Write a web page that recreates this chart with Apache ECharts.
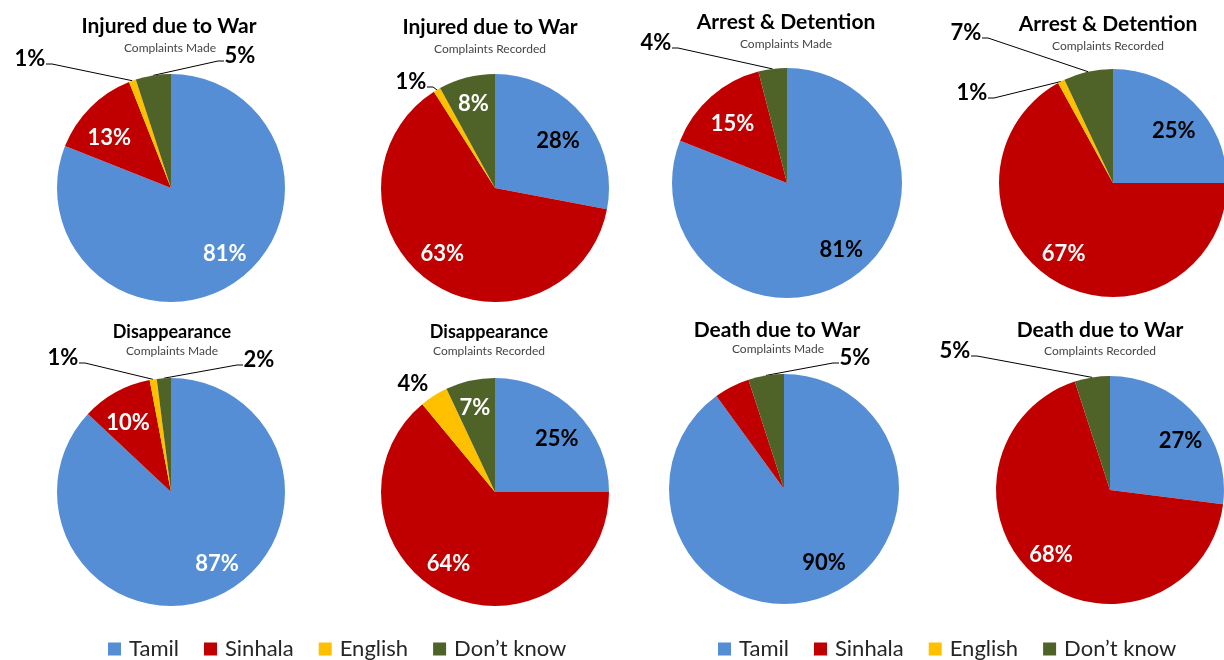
<!DOCTYPE html>
<html>
<head>
<meta charset="utf-8">
<script src="https://cdn.jsdelivr.net/npm/echarts@6/dist/echarts.min.js"></script>
<style>
html,body{margin:0;padding:0;background:#ffffff;}
#chart{width:1224px;height:660px;}
</style>
</head>
<body>
<div id="chart"></div>
<script>
// ---------------- DATA ----------------
const languages = ['Tamil', 'Sinhala', 'English', 'Don’t know'];
const chartTitles = ['Injured due to War', 'Injured due to War', 'Arrest & Detention', 'Arrest & Detention',
                     'Disappearance', 'Disappearance', 'Death due to War', 'Death due to War'];
const chartSubtitles = ['Complaints Made', 'Complaints Recorded', 'Complaints Made', 'Complaints Recorded',
                        'Complaints Made', 'Complaints Recorded', 'Complaints Made', 'Complaints Recorded'];
const injuredMade           = [81, 13, 1, 5];
const injuredRecorded       = [28, 63, 1, 8];
const arrestMade            = [81, 15, 0, 4];
const arrestRecorded        = [25, 67, 1, 7];
const disappearanceMade     = [87, 10, 1, 2];
const disappearanceRecorded = [25, 64, 4, 7];
const deathMade             = [90, 5, 0, 5];
const deathRecorded         = [27, 68, 0, 5];

// ---------------- STYLE / LAYOUT ----------------
const sliceColors = ['#558ED5', '#C00000', '#FFC000', '#4F6228'];
const FONT = 'Lato, "Open Sans", sans-serif';
// label modes: w = inside white, b = inside black, o = outside with leader, t = outside no leader, null = hidden
const pies = [
  {values: injuredMade, c: [171, 188], r: 114, t: [169, 26], s: [170, 48], ts: 21,
   modes: ['w', 'w', 'o', 'o'], out: {2: [-141, -129], 3: [69, -132]},
   nudge: {0: [7, -3], 1: [-3, 9]}},
  {values: injuredRecorded, c: [495, 188], r: 114, t: [490, 27], s: [490, 49], ts: 21,
   modes: ['b', 'w', 'o', 'w'], out: {2: [-84, -106]},
   nudge: {0: [-1, 6], 1: [-6, -3], 3: [-1, -3]}},
  {values: arrestMade, c: [787, 183], r: 115, t: [786, 22], s: [786, 44], ts: 21,
   modes: ['b', 'w', null, 'o'], out: {3: [-131, -140]},
   nudge: {0: [7, -3], 1: [1, 4]}},
  {values: arrestRecorded, c: [1113, 183], r: 114, t: [1108, 24], s: [1108, 46], ts: 21,
   modes: ['b', 'w', 'o', 'o'], out: {2: [-141, -90], 3: [-147, -150]},
   nudge: {0: [2, 7], 1: [-7, -1]}},
  {values: disappearanceMade, c: [171, 492], r: 114, t: [172, 332], s: [172, 351], ts: 18,
   modes: ['w', 'w', 'o', 'o'], out: {2: [-108, -134], 3: [88, -132]},
   nudge: {0: [13, -4], 1: [-3, 4]}},
  {values: disappearanceRecorded, c: [495, 492], r: 114, t: [489, 332], s: [489, 351], ts: 18,
   modes: ['b', 'w', 't', 'w'], out: {2: [-82, -108]},
   nudge: {0: [3, 6], 1: [-11, -3], 3: [-2, -3]}},
  {values: deathMade, c: [784, 489], r: 115, t: [777, 330], s: [778, 349], ts: 21,
   modes: ['b', null, null, 'o'], out: {3: [71, -131]},
   nudge: {0: [14, -6]}},
  {values: deathRecorded, c: [1110, 490], r: 114, t: [1100, 330], s: [1100, 351], ts: 21,
   modes: ['b', 'w', null, 'o'], out: {3: [-155, -139]},
   nudge: {0: [8, 6], 1: [-6, 1]}}
];

function midDir(values, idx) {
  const total = values.reduce((a, b) => a + b, 0);
  let cum = 0;
  for (let i = 0; i < idx; i++) cum += values[i];
  const f = (cum + values[idx] / 2) / total;
  const a = 2 * Math.PI * f;
  return [Math.sin(a), -Math.cos(a)];
}

function layoutFor(p, idx) {
  const mode = p.modes[idx];
  if (!mode) return;
  const d = midDir(p.values, idx);
  const [cx, cy] = p.c;
  if (mode === 'w' || mode === 'b') {
    const n = (p.nudge && p.nudge[idx]) || [0, 0];
    return {x: cx + d[0] * p.r * 0.73 + n[0], y: cy + d[1] * p.r * 0.73 + n[1],
            align: 'center', verticalAlign: 'middle'};
  }
  const o = p.out[idx];
  const lx = cx + o[0], ly = cy + o[1];
  const res = {x: lx, y: ly, align: 'center', verticalAlign: 'middle'};
  if (mode === 'o') {
    const ex = cx + d[0] * p.r, ey = cy + d[1] * p.r;
    const left = lx < ex;
    const side = left ? lx + 16 : lx - 16;
    const yy = ly + 5;
    res.labelLinePoints = [[ex, ey], [side + (left ? 6 : -6), yy], [side, yy]];
  }
  return res;
}

const titles = [];
pies.forEach((p, i) => {
  titles.push({text: chartTitles[i], left: p.t[0], top: p.t[1], padding: 0,
    textAlign: 'center', textVerticalAlign: 'middle',
    textStyle: {fontFamily: FONT, fontSize: p.ts, fontWeight: 'bold', color: '#000000'}});
  titles.push({text: chartSubtitles[i], left: p.s[0], top: p.s[1], padding: 0,
    textAlign: 'center', textVerticalAlign: 'middle',
    textStyle: {fontFamily: FONT, fontSize: 12, fontWeight: 'normal', color: '#454545'}});
});

const series = pies.map((p) => ({
  type: 'pie',
  center: p.c,
  radius: p.r,
  startAngle: 90,
  clockwise: true,
  avoidLabelOverlap: false,
  silent: true,
  animation: false,
  label: {show: true, formatter: '{c}%', fontFamily: FONT, fontSize: 22, fontWeight: 'bold', color: '#000'},
  labelLine: {show: true, smooth: false, lineStyle: {color: '#000000', width: 1}},
  data: p.values.map((v, i) => {
    const mode = p.modes[i];
    return {
      name: languages[i],
      value: v,
      itemStyle: {color: sliceColors[i]},
      label: {
        show: !!mode,
        position: (mode === 'o' || mode === 't') ? 'outside' : 'inside',
        color: mode === 'w' ? '#ffffff' : '#000000'
      },
      labelLine: {show: mode === 'o'}
    };
  }),
  labelLayout: (params) => layoutFor(p, params.dataIndex)
}));

const legendBase = {
  data: languages,
  orient: 'horizontal',
  top: 638,
  padding: 0,
  icon: 'rect',
  itemWidth: 13,
  itemHeight: 13,
  itemGap: 25,
  selectedMode: false,
  textStyle: {fontFamily: FONT, fontSize: 22, color: '#262626', padding: [0, 0, 0, 3]}
};

const chart = echarts.init(document.getElementById('chart'), null, {renderer: 'canvas'});
chart.setOption({
  animation: false,
  backgroundColor: '#ffffff',
  color: sliceColors,
  title: titles,
  legend: [
    Object.assign({}, legendBase, {left: 108}),
    Object.assign({}, legendBase, {left: 718})
  ],
  series: series
});
</script>
</body>
</html>
